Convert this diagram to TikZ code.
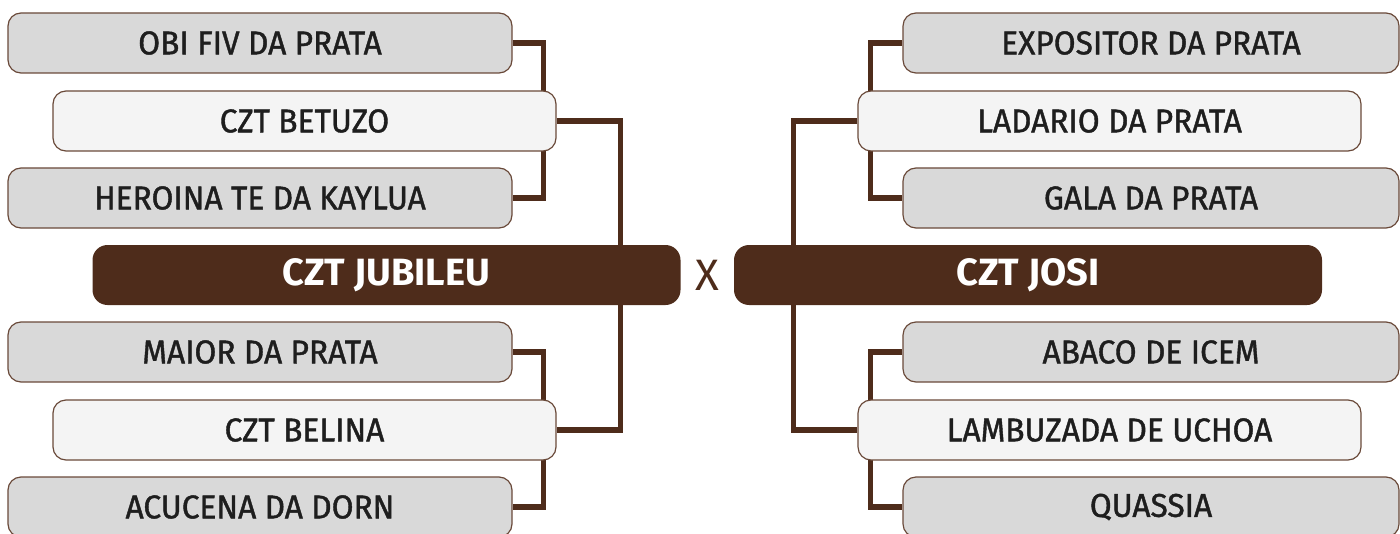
\documentclass[tikz,border=0pt]{standalone}
\usepackage{fontspec}
\setmainfont{Fira Sans}
\newfontfamily\entfont{Fira Sans}[FakeBold=1.2, FakeStretch=0.96]
\usepackage{tikz}
\usetikzlibrary{backgrounds}
\definecolor{brn}{HTML}{4E2C1B}
\definecolor{brd}{HTML}{6A4A3A}
\definecolor{boxgray}{HTML}{D9D9D9}
\definecolor{boxlight}{HTML}{F4F4F4}
\definecolor{txt}{HTML}{1E1E1E}

\begin{document}
\begin{tikzpicture}[x=0.5pt, y=-0.5pt,
  entrant/.style={rectangle, rounded corners=6.5pt, draw=brd, line width=0.6pt, fill=boxgray, text=txt, minimum width=252pt, minimum height=30pt, inner sep=0pt, font=\entfont\fontsize{16.5}{19}\selectfont},
  winner/.style={entrant, fill=boxlight, minimum width=251.5pt},
  champ/.style={rectangle, rounded corners=7.5pt, fill=brn, text=white, minimum width=294pt, minimum height=30pt, inner sep=0pt, font=\fontsize{19}{22}\selectfont\bfseries},
  link/.style={draw=brn, line width=2.6pt}]
\useasboundingbox (0,0) rectangle (1400,534);

% left side
\node[entrant] (obi) at (260,43) {OBI FIV DA PRATA};
\node[winner] (betuzo) at (304.5,121) {CZT BETUZO};
\node[entrant] (heroina) at (260,198) {HEROINA TE DA KAYLUA};
\node[champ] (jubileu) at (386.5,275) {CZT JUBILEU};
\node[entrant] (maior) at (260,352) {MAIOR DA PRATA};
\node[winner] (belina) at (304.5,430) {CZT BELINA};
\node[entrant] (acucena) at (260,507) {ACUCENA DA DORN};

% right side
\node[entrant, minimum width=248pt] (expositor) at (1151,43) {EXPOSITOR DA PRATA};
\node[winner] (ladario) at (1109.5,121) {LADARIO DA PRATA};
\node[entrant, minimum width=248pt] (gala) at (1151,198) {GALA DA PRATA};
\node[champ] (josi) at (1028,275) {CZT JOSI};
\node[entrant, minimum width=248pt] (abaco) at (1151,352) {ABACO DE ICEM};
\node[winner] (lambuzada) at (1109.5,430) {LAMBUZADA DE UCHOA};
\node[entrant, minimum width=248pt] (quassia) at (1151,507) {QUASSIA};

\node[text=brn, font=\fontsize{22}{26}\selectfont] (vs) at (707,275) {X};

% brackets
\begin{scope}[on background layer]
\draw[link] (obi.east) -- ++(31,0) |- (heroina.east);
\draw[link] (maior.east) -- ++(31,0) |- (acucena.east);
\draw[link] (betuzo.east) -- ++(64,0) |- (belina.east);
\draw[link] (expositor.west) -- ++(-32,0) |- (gala.west);
\draw[link] (abaco.west) -- ++(-32,0) |- (quassia.west);
\draw[link] (ladario.west) -- ++(-64,0) |- (lambuzada.west);
\end{scope}
\end{tikzpicture}
\end{document}
